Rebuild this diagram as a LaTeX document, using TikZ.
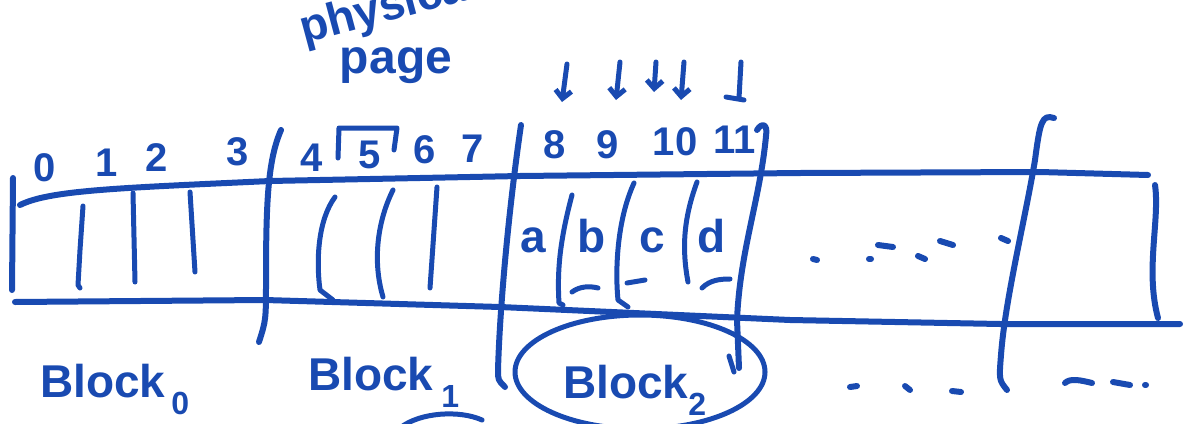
\documentclass[tikz,border=0pt]{standalone}
\usepackage{fontspec}
\setmainfont{Liberation Sans}
\usetikzlibrary{arrows.meta}
\definecolor{ink}{RGB}{25,74,177}
\newcommand\lowidx[1]{\raisebox{-0.38em}{\fontsize{32}{32}\selectfont #1}}
\begin{document}
\begin{tikzpicture}[x=1pt,y=-1pt,line cap=round,line join=round,
  pen/.style={draw=ink,line width=6pt},
  fine/.style={draw=ink,line width=5pt},
  num/.style={text=ink,font=\fontsize{40}{40}\selectfont\bfseries,inner sep=0pt},
  cell/.style={text=ink,font=\fontsize{46}{46}\selectfont\bfseries,inner sep=0pt},
  blk/.style={text=ink,font=\fontsize{46}{46}\selectfont\bfseries,inner sep=0pt,anchor=base west},
  arr/.style={fine,-{Straight Barb[length=8pt,width=16pt]}},
]
\useasboundingbox (0,0) rectangle (1193,423);
\begin{scope}
\clip (0,0) rectangle (1193,423);
% title text
\node[text=ink,font=\fontsize{46}{46}\selectfont\bfseries,inner sep=0pt,anchor=base west,rotate=15] (phys) at (304,44) {physical};
\node[text=ink,font=\fontsize{48}{48}\selectfont\bfseries,inner sep=0pt,anchor=base] (page) at (396,73) {page};
% strip outline
\draw[pen] (20,205) .. controls (50,190) and (120,188) .. (270,181) -- (520,176) -- (800,173) -- (1040,172) -- (1148,175);
\draw[pen] (15,302) -- (265,300) -- (500,307) -- (790,320) -- (1000,324) -- (1180,324);
\draw[pen] (13,178) -- (12,290);
\draw[pen] (1155,185) .. controls (1160,220) and (1145,270) .. (1158,318);
% block dividers
\draw[pen] (281,130) .. controls (268,160) and (266,200) .. (266,280) .. controls (266,320) .. (259,342);
\draw[pen] (521,125) .. controls (510,200) and (500,300) .. (498,370) .. controls (498,380) .. (505,387);
\draw[pen] (757,130) .. controls (762,122) and (768,124) .. (766,136) .. controls (760,200) and (740,250) .. (737,320) -- (739,368);
\draw[pen] (1054,118) .. controls (1042,114) and (1040,122) .. (1035,160) .. controls (1025,220) and (1005,300) .. (1001,355) .. controls (999,380) .. (1007,390);
% inner cell lines
\draw[fine] (83,206) -- (80,250) -- (78,285) -- (80,288);
\draw[fine] (133,193) -- (135,282);
\draw[fine] (190,192) -- (195,272);
\draw[fine] (335,197) .. controls (318,220) and (316,260) .. (320,290) -- (333,300);
\draw[fine] (393,190) .. controls (378,220) and (372,260) .. (383,297);
\draw[fine] (437,187) -- (430,288);
\draw[fine] (572,195) .. controls (560,240) and (557,270) .. (559,303) -- (563,305);
\draw[fine] (634,183) .. controls (617,220) and (615,270) .. (618,300) -- (628,307);
\draw[fine] (697,182) .. controls (683,220) and (682,250) .. (688,282);
% index numbers
\node[num] (n0) at (45,168) {0};
\node[num] (n1) at (107,163) {1};
\node[num] (n2) at (157,158) {2};
\node[num] (n3) at (238,152) {3};
\node[num] (n4) at (312,158) {4};
\node[num] (n5) at (370,155) {5};
\node[num] (n6) at (425,150) {6};
\node[num] (n7) at (473,149) {7};
\node[num] (n8) at (555,145) {8};
\node[num] (n9) at (608,145) {9};
\node[num] (n10) at (675,142) {10};
\node[num] (n11) at (735,140) {11};
\draw[fine] (338,158) -- (339,128) -- (397,128) -- (394,150);
% arrows above 8..11
\coordinate (t1) at (567,64); \coordinate (e1) at (562,102);
\coordinate (t2) at (620,62); \coordinate (e2) at (616,100);
\coordinate (t3) at (656,62); \coordinate (e3) at (654,92);
\coordinate (t4) at (684,62); \coordinate (e4) at (681,100);
\draw[arr] (t1) -- (e1);
\draw[arr] (t2) -- (e2);
\draw[arr] (t3) -- (e3);
\draw[arr] (t4) -- (e4);
\coordinate (t5) at (741,62); \coordinate (e5) at (739,98);
\draw[fine] (t5) -- (e5);
\draw[fine] (726,97) -- (744,100);
% cell contents
\node[cell] (ca) at (533,240) {a};
\node[cell] (cb) at (592,236) {b};
\node[cell] (cc) at (652,240) {c};
\node[cell] (cd) at (712,236) {d};
\draw[fine] (572,292) .. controls (580,286) and (590,286) .. (598,288);
\draw[fine] (627,283) -- (645,280);
\draw[fine] (702,288) .. controls (710,280) and (720,279) .. (730,279);
% dots in the strip
\draw[pen] (813,259) -- (817,260);
\draw[pen] (869,259) -- (871,259);
\draw[pen] (878,245) -- (893,247);
\draw[pen] (918,256) -- (925,259);
\draw[pen] (940,241) -- (953,245);
\draw[pen] (1001,238) -- (1008,241);
% block labels
\node[blk] (b0) at (40,397) {Block\hspace{6pt}\lowidx{0}};
\node[blk] (b1) at (308,390) {Block\hspace{8pt}\lowidx{1}};
\node[blk] (b2) at (563,398) {Block\lowidx{2}};
\draw[fine] (640,372) ellipse [x radius=125, y radius=57];
\draw[fine] (729,356) -- (734,372);
\draw[fine] (400,428) .. controls (420,412) and (460,410) .. (482,420);
% trailing marks
\draw[pen] (850,387) -- (857,386);
\draw[pen] (905,386) -- (910,390);
\draw[pen] (952,391) -- (961,392);
\draw[pen] (1065,383) .. controls (1070,378) and (1080,380) .. (1092,383);
\draw[pen] (1113,382) -- (1130,385);
\draw[pen] (1145,385) -- (1146,385);
\end{scope}
\end{tikzpicture}
\end{document}
